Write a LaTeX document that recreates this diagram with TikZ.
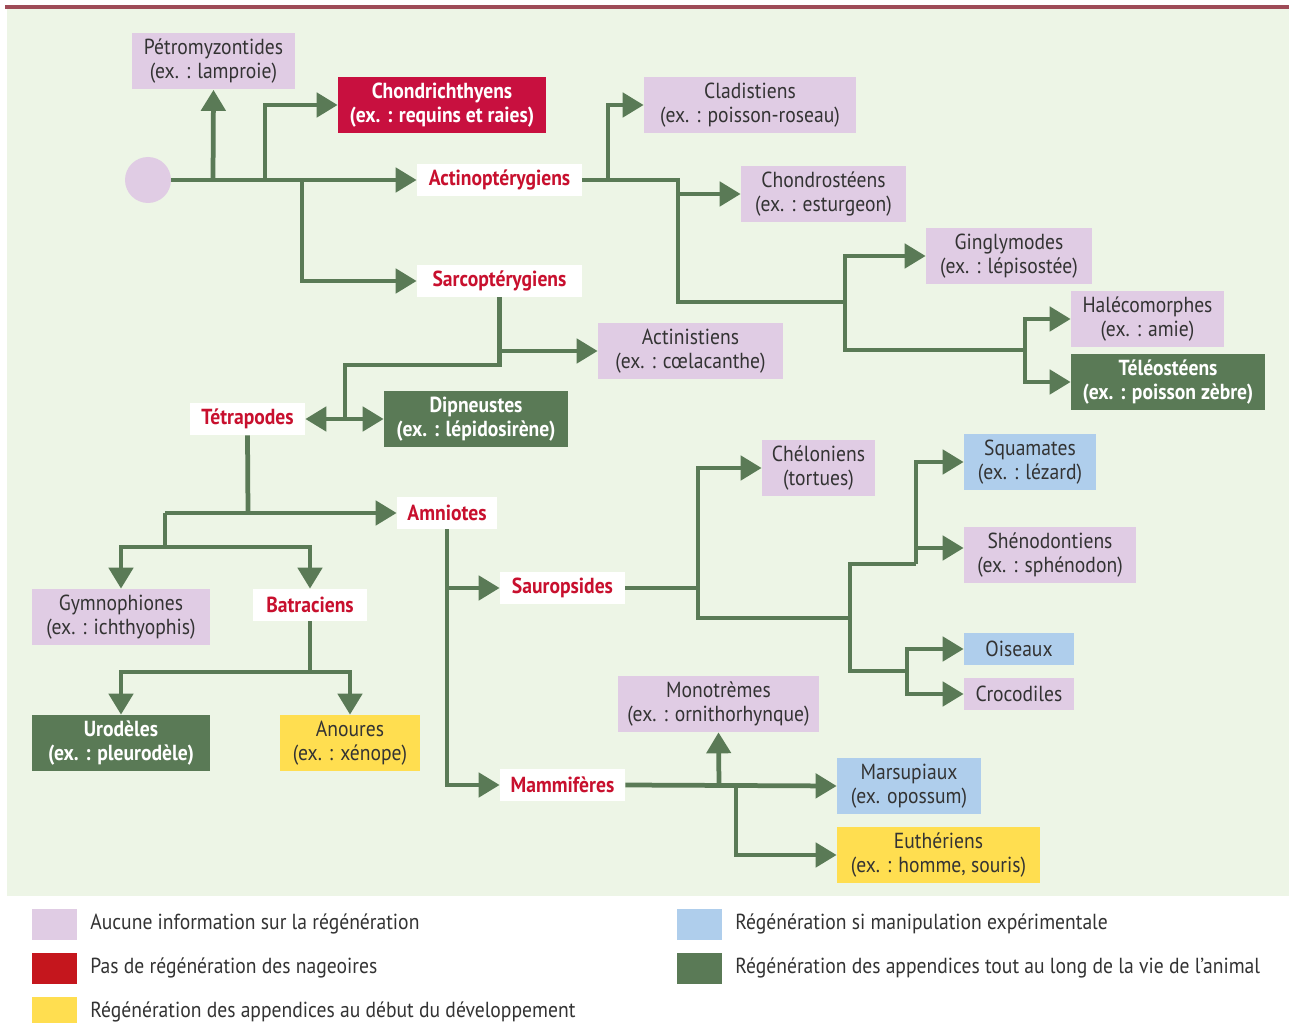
\documentclass[tikz,border=0pt]{standalone}
\usepackage{fontspec}
\setmainfont[FakeStretch=0.9]{PT Sans}
\usetikzlibrary{arrows.meta}
\definecolor{bgc}{HTML}{EDF5E6}
\definecolor{barc}{HTML}{9E4B57}
\definecolor{lnc}{HTML}{5A7A56}
\definecolor{lav}{HTML}{E0CCE4}
\definecolor{sky}{HTML}{AFCEEC}
\definecolor{yel}{HTML}{FFDE50}
\definecolor{crim}{HTML}{C8103F}
\definecolor{legred}{HTML}{C5161D}
\definecolor{redtxt}{HTML}{C8102E}
\definecolor{txt}{HTML}{333333}
\begin{document}
\begin{tikzpicture}[x=0.02cm, y=-0.02cm,
  box/.style={inner sep=1pt, align=center, text=txt, font=\fontsize{12.4}{13.7}\selectfont, minimum height=1.12cm},
  lavbox/.style={box, fill=lav},
  skybox/.style={box, fill=sky},
  yelbox/.style={box, fill=yel},
  grnbox/.style={box, fill=lnc, text=white, font=\fontsize{12.4}{13.7}\selectfont\bfseries},
  crimbox/.style={box, fill=crim, text=white, font=\fontsize{12.4}{13.7}\selectfont\bfseries},
  grp/.style={box, fill=white, text=redtxt, font=\fontsize{12.4}{13.7}\selectfont\bfseries, minimum height=0.64cm},
  key/.style={inner sep=0pt, minimum width=0.9cm, minimum height=0.62cm},
  keytxt/.style={anchor=west, inner sep=0pt, text=txt, font=\fontsize{12.4}{13.7}\selectfont},
  br/.style={draw=lnc, line width=0.095cm},
  arr/.style={br, -{Triangle[length=0.42cm, width=0.48cm]}},
]
\useasboundingbox (0,0) rectangle (1289,1023);
\fill[white] (0,0) rectangle (1289,1023);
\fill[bgc] (7,9) rectangle (1289,896);
\fill[barc] (5,5) rectangle (1289,9.5);

\node[circle, fill=lav, minimum size=0.92cm, inner sep=0pt] (root) at (148,180) {};
\node[lavbox, minimum width=3.26cm] (petro) at (213.5,61.5) {Pétromyzontides\\(ex. : lamproie)};
\node[crimbox, minimum width=4.16cm] (chondri) at (442,105) {Chondrichthyens\\(ex. : requins et raies)};
\node[grp, minimum width=3.3cm] (actino) at (499.5,180) {Actinoptérygiens};
\node[grp, minimum width=3.3cm] (sarco) at (499.5,281) {Sarcoptérygiens};
\node[lavbox, minimum width=4.24cm] (cladi) at (750,105) {Cladistiens\\(ex. : poisson-roseau)};
\node[lavbox, minimum width=3.3cm] (chondro) at (823.5,194) {Chondrostéens\\(ex. : esturgeon)};
\node[lavbox, minimum width=3.32cm] (gingly) at (1009,256) {Ginglymodes\\(ex. : lépisostée)};
\node[lavbox, minimum width=3.06cm] (haleco) at (1147.5,319) {Halécomorphes\\(ex. : amie)};
\node[grnbox, minimum width=3.88cm] (teleo) at (1168,382) {Téléostéens\\(ex. : poisson zèbre)};
\node[lavbox, minimum width=3.7cm] (actini) at (690.5,351) {Actinistiens\\(ex. : cœlacanthe)};
\node[grp, minimum width=2.3cm] (tetra) at (247.5,419) {Tétrapodes};
\node[grnbox, minimum width=3.68cm] (dipn) at (476,419) {Dipneustes\\(ex. : lépidosirène)};
\node[grp, minimum width=2cm] (amnio) at (447,513) {Amniotes};
\node[lavbox, minimum width=3.56cm] (gymno) at (121,617) {Gymnophiones\\(ex. : ichthyophis)};
\node[grp, minimum width=2.28cm] (batra) at (310,605) {Batraciens};
\node[grnbox, minimum width=3.56cm] (urod) at (121,743) {Urodèles\\(ex. : pleurodèle)};
\node[yelbox, minimum width=2.8cm] (anour) at (350,743) {Anoures\\(ex. : xénope)};
\node[grp, minimum width=2.5cm] (sauro) at (562.5,588) {Sauropsides};
\node[grp, minimum width=2.5cm] (mammi) at (562.5,785) {Mammifères};
\node[lavbox, minimum width=2.26cm] (chelo) at (818.5,468) {Chéloniens\\(tortues)};
\node[skybox, minimum width=2.64cm] (squam) at (1030,462) {Squamates\\(ex. : lézard)};
\node[lavbox, minimum width=3.44cm] (sheno) at (1050,555) {Shénodontiens\\(ex. : sphénodon)};
\node[skybox, minimum width=2.2cm, minimum height=0.64cm] (oise) at (1019,649) {Oiseaux};
\node[lavbox, minimum width=2.2cm, minimum height=0.64cm] (croco) at (1019,694) {Crocodiles};
\node[lavbox, minimum width=4.02cm] (mono) at (718.5,704) {Monotrèmes\\(ex. : ornithorhynque)};
\node[skybox, minimum width=2.88cm] (marsu) at (909,786) {Marsupiaux\\(ex. opossum)};
\node[yelbox, minimum width=4.06cm] (euth) at (938.5,855) {Euthériens\\(ex. : homme, souris)};

\coordinate (r1) at (213,180);
\coordinate (r2) at (265,180);
\coordinate (r3) at (302,180);
\coordinate (a1) at (608,180);
\coordinate (a3) at (678,302);
\coordinate (a4) at (678,194);
\coordinate (g1) at (845,302);
\coordinate (g3) at (1025,350);
\coordinate (s1) at (499,351);
\coordinate (s2) at (345,365);
\coordinate (jt) at (345,419);
\coordinate (t1) at (248,513);
\coordinate (t2) at (165,513);
\coordinate (t3) at (165,547);
\coordinate (b1) at (310,672);
\coordinate (m1) at (447,588);
\coordinate (p1) at (698,588);
\coordinate (p2) at (698,618);
\coordinate (p3) at (850,618);
\coordinate (q1) at (916,564);
\coordinate (k2) at (916,548);
\coordinate (q2) at (907,671);
\coordinate (n1) at (719,785);
\coordinate (n2) at (736,785);

\draw[arr] (root.east) -- (actino.west);
\draw[arr] (r1) -- (petro.south);
\draw[arr] (r2) |- (chondri.west);
\draw[arr] (r3) |- (sarco.west);
\draw[br] (actino.east) -| (a3) -- (g1);
\draw[arr] (a1) |- (cladi.west);
\draw[arr] (a4) -- (chondro.west);
\draw[arr] (g1) |- (gingly.west);
\draw[br] (g1) |- (g3);
\draw[arr] (g3) |- (haleco.west);
\draw[arr] (g3) |- (teleo.west);
\draw[br] (sarco.south) |- (s2) -- (jt);
\draw[arr] (s1) -- (actini.west);
\draw[arr] (jt) -- (tetra.east);
\draw[arr] (jt) -- (dipn.west);
\draw[br] (tetra.south) -- (t1);
\draw[br] (t2) -- (t3);
\draw[arr] (t2) -- (amnio.west);
\draw[arr] (t3) -| (gymno.north);
\draw[arr] (t3) -| (batra.north);
\draw[br] (batra.south) -- (b1);
\draw[arr] (b1) -| (urod.north);
\draw[arr] (b1) -| (anour.north);
\draw[arr] (amnio.south) |- (mammi.west);
\draw[arr] (m1) -- (sauro.west);
\draw[br] (sauro.east) -| (p2) -- (p3);
\draw[arr] (p1) |- (chelo.west);
\draw[br] (p3) |- (q1);
\draw[arr] (q1) |- (squam.west);
\draw[arr] (k2) -- (k2 -| sheno.west);
\draw[br] (p3) |- (q2);
\draw[arr] (q2) |- (oise.west);
\draw[arr] (q2) |- (croco.west);
\draw[arr] (mammi.east) -- (marsu.west);
\draw[arr] (n1) -- (mono.south);
\draw[arr] (n2) |- (euth.west);

\node[key, fill=lav] (k1) at (54.5,924.5) {};
\node[key, fill=legred] (k3) at (54.5,968.5) {};
\node[key, fill=yel] (k5) at (54.5,1012.5) {};
\node[key, fill=sky] (k4) at (699.5,924.5) {};
\node[key, fill=lnc] (k6) at (699.5,968.5) {};
\node[keytxt] (l1) at (90,924) {Aucune information sur la régénération};
\node[keytxt] (l3) at (90,968) {Pas de régénération des nageoires};
\node[keytxt] (l5) at (90,1012) {Régénération des appendices au début du développement};
\node[keytxt] (l4) at (735,924) {Régénération si manipulation expérimentale};
\node[keytxt] (l6) at (735,968) {Régénération des appendices tout au long de la vie de l’animal};
\end{tikzpicture}
\end{document}
